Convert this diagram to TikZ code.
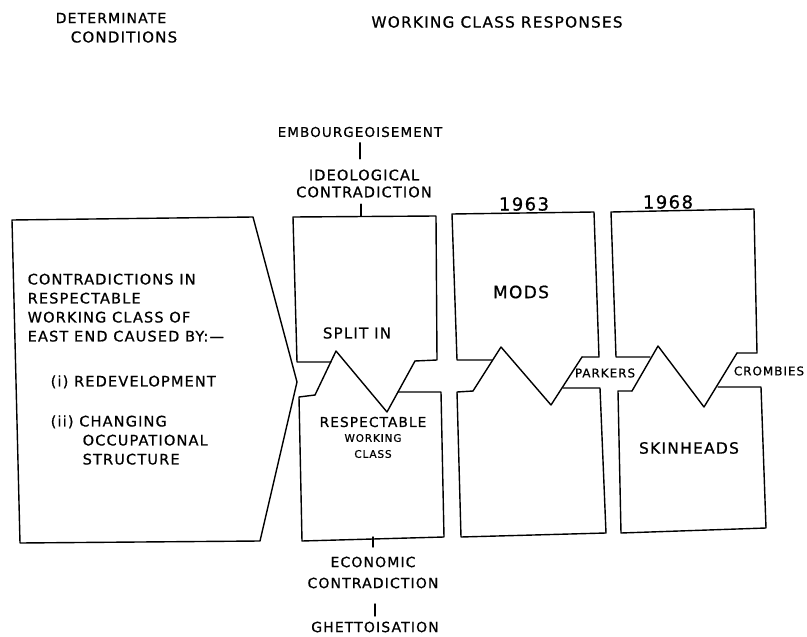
\documentclass[tikz,border=0pt]{standalone}
\usepackage{fontspec}
\setmainfont{DejaVu Sans}
\newfontfamily\hand[LetterSpace=8,FakeBold=0.8]{DejaVu Sans}
\newcommand{\hsz}[2]{\hand\fontsize{#1}{#2}\selectfont}
\begin{document}
\begin{tikzpicture}[x=1pt,y=-1pt,line width=1.4pt,line join=round,line cap=round,
  lbl/.style={inner sep=0pt,align=center,font=\hsz{14.5}{17}},
  lblleft/.style={inner sep=0pt,align=left,font=\hsz{14.5}{19}},
  small/.style={inner sep=0pt,align=center,font=\hsz{12}{15}},
  tiny/.style={inner sep=0pt,align=center,font=\hsz{10.5}{16}},
  big/.style={inner sep=0pt,align=center,font=\hsz{17}{20}},
  yr/.style={inner sep=0pt,align=center,font=\hsz{18}{20}},
  head/.style={inner sep=0pt,align=center,font=\hsz{15.3}{18}},
  link/.style={line width=1.4pt}]
\fill[white] (0,0) rectangle (807,637);
\useasboundingbox (0,0) rectangle (807,637);

% left pentagon arrow
\draw (12,220) -- (253,217) -- (297,382) -- (260,541) -- (20,543) -- cycle;

% column 1
\draw (331,362) -- (297,362) -- (293,217) -- (436,216) -- (437,360) -- (415,361);
\draw (315,395) -- (299,397) -- (302,541) -- (444,537) -- (441,392) -- (398,392);
\draw (315,395) -- (336,351) -- (387,412) -- (415,361);

% column 2
\draw (492,360) -- (457,360) -- (452,214) -- (594,212) -- (599,357) -- (582,357);
\draw (473,391) -- (457,392) -- (461,537) -- (606,533) -- (600,388) -- (563,388);
\draw (473,391) -- (501,347) -- (551,405) -- (582,357);

% column 3
\draw (650,357) -- (616,357) -- (611,212) -- (754,209) -- (757,353) -- (737,353);
\draw (632,391) -- (618,391) -- (621,533) -- (766,528) -- (761,387) -- (718,387);
\draw (632,391) -- (658,346) -- (704,407) -- (737,353);

% headings
\node[lbl,font=\hsz{14}{17}] (det1) at (111,18) {DETERMINATE};
\node[lbl,font=\hsz{15}{17}] (det2) at (124,37) {CONDITIONS};
\node[head] (wcr) at (497,22) {WORKING CLASS RESPONSES};

% labels
\node[lbl,font=\hsz{13.5}{17}] (emb) at (360,132) {EMBOURGEOISEMENT};
\node[lbl] (ideo) at (364,183.5) {IDEOLOGICAL\\CONTRADICTION};
\node[yr] (y63) at (524,204) {1963};
\node[yr] (y68) at (668,202) {1968};
\node[lbl,font=\hsz{15}{17}] (split) at (357,333) {SPLIT IN};
\node[big] (mods) at (521,292) {MODS};
\node[small] (parkers) at (605,373) {PARKERS};
\node[small] (crombies) at (769,371) {CROMBIES};
\node[lbl,font=\hsz{13.7}{17}] (resp) at (373,422) {RESPECTABLE};
\node[tiny] (wc) at (373,446) {WORKING\\CLASS};
\node[lbl,font=\hsz{15.5}{17}] (skin) at (689,448) {SKINHEADS};
\node[lbl,font=\hsz{14}{21}] (econ) at (373,572.5) {ECONOMIC\\CONTRADICTION};
\node[lbl,font=\hsz{14}{17}] (ghetto) at (375,627) {GHETTOISATION};

\node[lblleft,anchor=north west] (cause) at (27,273)
  {CONTRADICTIONS IN\\RESPECTABLE\\WORKING CLASS OF\\EAST END CAUSED BY:—\\[26pt]
   \hspace*{23pt}(i) REDEVELOPMENT\\[21pt]
   \hspace*{23pt}(ii) CHANGING\\
   \hspace*{55pt}OCCUPATIONAL\\
   \hspace*{55pt}STRUCTURE};

% connectors
\coordinate (c1t) at (361,216);
\coordinate (c1b) at (373,537);
\draw[link,shorten <=5pt,shorten >=10pt] (emb.south) -- (emb.south |- ideo.north);
\draw[link,shorten <=6pt] (c1t |- ideo.south) -- (c1t);
\draw[link,shorten >=9pt] (c1b) -- (c1b |- econ.north);
\draw[link,shorten <=15pt,shorten >=5pt] (ghetto.north |- econ.south) -- (ghetto.north);
\end{tikzpicture}
\end{document}
